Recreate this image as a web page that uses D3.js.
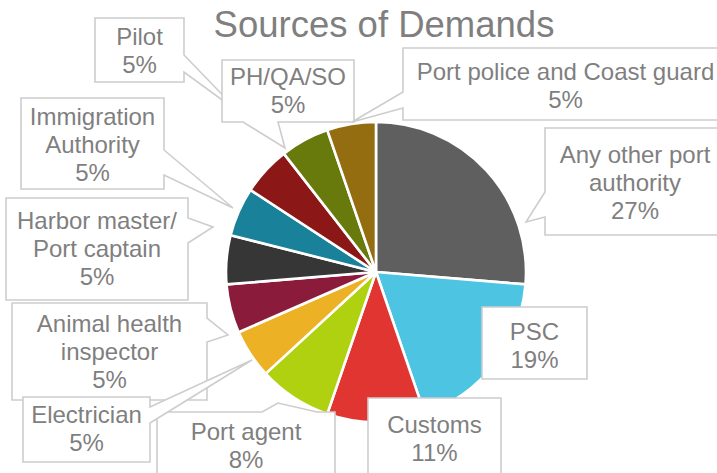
<!DOCTYPE html>
<html><head><meta charset="utf-8">
<script src="https://cdn.jsdelivr.net/npm/d3@7"></script>
<style>html,body{margin:0;padding:0;background:#fff;overflow:hidden}
svg text{font-family:"Liberation Sans", Arial, Helvetica, sans-serif;}</style>
</head><body>
<svg id="chart" width="717" height="473"></svg>
<script>
// ---- data ----
const title = "Sources of Demands";
const categories = ["Any other port authority","PSC","Customs","Port agent","Electrician",
  "Animal health inspector","Harbor master/ Port captain","Immigration Authority","Pilot","PH/QA/SO",
  "Port police and Coast guard"];
// relative slice sizes measured from the slice angles
const values = [10, 7, 4, 3, 2, 2, 2, 2, 2, 2, 2];
// percentage texts as printed on the labels
const percentLabels = ["27%","19%","11%","8%","5%","5%","5%","5%","5%","5%","5%"];
const colors = ["#5f5f5f","#4dc4e2","#e03531","#b0d10f","#ecb124","#8b1b3b","#363636",
  "#1a819a","#8b1817","#677a0b","#946d11"];

// ---- label layout (callout boxes) ----
const labelLines = [
  ["Any other port","authority"],["PSC"],["Customs"],["Port agent"],["Electrician"],
  ["Animal health","inspector"],["Harbor master/","Port captain"],["Immigration","Authority"],
  ["Pilot"],["PH/QA/SO"],["Port police and Coast guard"]];
const boxes = [
  {r:[545,128,725,235], side:"left", b:[192,217], tip:[526,222], y0:163},
  {r:[482,307,587,379], y0:340},
  {r:[368,398,501,492], y0:433},
  {r:[157,412,335,500], side:"top", b:[262,317], tip:[278,403], y0:440},
  {r:[23,397,150,462], side:"right", b:[407,423], tip:[252,360], y0:423},
  {r:[12,303,207,400], side:"right", b:[318,342], tip:[228,335], y0:331.5},
  {r:[6,198,188,300], side:"right", b:[218,243], tip:[213,227], y0:229},
  {r:[21,98,164,189], side:"right", b:[150,175], tip:[233,208], y0:125},
  {r:[95,18,184,82], side:"right", b:[55,72], tip:[240,113], y0:45},
  {r:[222,60,354,122], side:"bottom", b:[243,278], tip:[285,148], y0:85},
  {r:[403,48,728,120], side:"left", b:[92,108], tip:[352,122], y0:80}
];
const drawOrder = [0,1,2,3,5,4,6,7,8,9,10];

const svg = d3.select("#chart");
const cx = 376, cy = 272, R = 150;
const textColor = "#7f7f7f";

svg.append("text").attr("x", 384).attr("y", 37).attr("text-anchor","middle")
  .attr("font-size", 36.5).attr("fill", textColor).text(title);

const pie = d3.pie().sort(null).value(d => d)(values);
const arc = d3.arc().innerRadius(0).outerRadius(R);
const g = svg.append("g").attr("transform", `translate(${cx},${cy})`);
g.selectAll("path").data(pie).join("path")
  .attr("d", arc).attr("fill", (d,i) => colors[i])
  .attr("stroke", "#fff").attr("stroke-width", 2.6).attr("stroke-linejoin","round");

function calloutPath(bx) {
  const [x0,y0,x1,y1] = bx.r;
  const p = [];
  p.push([x0,y0]);
  if (bx.side === "top") { p.push([bx.b[0],y0], bx.tip, [bx.b[1],y0]); }
  p.push([x1,y0]);
  if (bx.side === "right") { p.push([x1,bx.b[0]], bx.tip, [x1,bx.b[1]]); }
  p.push([x1,y1]);
  if (bx.side === "bottom") { p.push([bx.b[1],y1], bx.tip, [bx.b[0],y1]); }
  p.push([x0,y1]);
  if (bx.side === "left") { p.push([x0,bx.b[1]], bx.tip, [x0,bx.b[0]]); }
  return "M" + p.map(q => q.join(",")).join("L") + "Z";
}

const lg = svg.append("g");
drawOrder.forEach(i => {
  const bx = boxes[i];
  const gg = lg.append("g");
  gg.append("path").attr("d", calloutPath(bx)).attr("fill", "#fff")
    .attr("stroke", "#cdcdcd").attr("stroke-width", 1.6).attr("stroke-linejoin","miter");
  const cxText = (bx.r[0] + bx.r[2]) / 2;
  const lines = labelLines[i].concat([percentLabels[i]]);
  const t = gg.append("text").attr("text-anchor","middle")
    .attr("font-size", 24).attr("fill", textColor);
  lines.forEach((ln, k) => {
    t.append("tspan").attr("x", cxText).attr("y", bx.y0 + k*28).text(ln);
  });
});
</script>
</body></html>
